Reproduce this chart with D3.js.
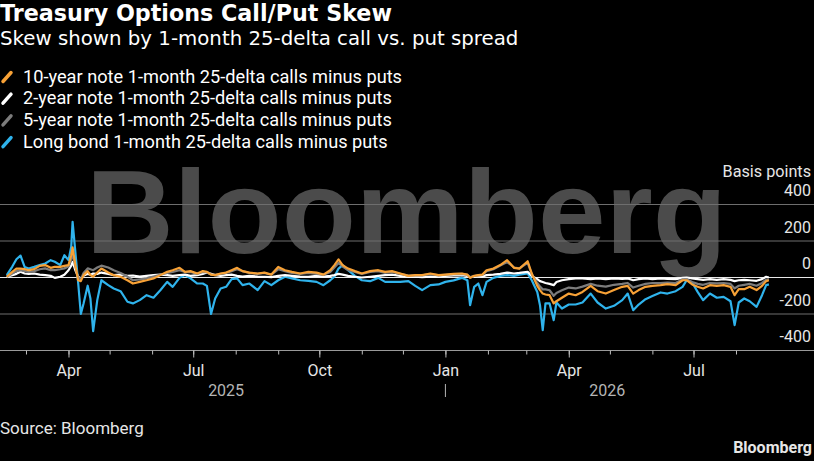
<!DOCTYPE html>
<html>
<head>
<meta charset="utf-8">
<script src="https://cdn.jsdelivr.net/npm/d3@7"></script>
<style>
  body { margin: 0; background: #000; }
  svg { display: block; }
  text { font-family: Roboto, "Noto Sans", sans-serif; }
</style>
</head>
<body>
<div id="chart"></div>
<script>
// dates of the sampled points
const dates = [
  "2025-02-15","2025-02-19","2025-02-22","2025-02-25","2025-02-28","2025-03-03","2025-03-07","2025-03-11","2025-03-15","2025-03-19",
  "2025-03-22","2025-03-26","2025-03-29","2025-04-01","2025-04-03","2025-04-04","2025-04-06","2025-04-08","2025-04-10","2025-04-12",
  "2025-04-15","2025-04-17","2025-04-19","2025-04-22","2025-04-25","2025-04-30","2025-05-04","2025-05-09","2025-05-14","2025-05-18",
  "2025-05-23","2025-05-28","2025-06-02","2025-06-07","2025-06-12","2025-06-16","2025-06-21","2025-06-25","2025-06-29","2025-07-04",
  "2025-07-08","2025-07-11","2025-07-14","2025-07-17","2025-07-21","2025-07-25","2025-07-29","2025-08-02","2025-08-06","2025-08-11",
  "2025-08-17","2025-08-22","2025-08-27","2025-09-01","2025-09-06","2025-09-11","2025-09-17","2025-09-23","2025-09-29","2025-10-04",
  "2025-10-09","2025-10-12","2025-10-15","2025-10-18","2025-10-22","2025-10-27","2025-11-01","2025-11-07","2025-11-13","2025-11-18",
  "2025-11-23","2025-11-29","2025-12-05","2025-12-10","2025-12-15","2025-12-21","2025-12-27","2026-01-01","2026-01-07","2026-01-13",
  "2026-01-17","2026-01-19","2026-01-22","2026-01-25","2026-01-28","2026-01-31","2026-02-05","2026-02-10","2026-02-15","2026-02-20",
  "2026-02-24","2026-03-02","2026-03-05","2026-03-09","2026-03-11","2026-03-13","2026-03-15","2026-03-18","2026-03-21","2026-03-23",
  "2026-03-27","2026-04-01","2026-04-06","2026-04-11","2026-04-17","2026-04-22","2026-04-28","2026-05-04","2026-05-10","2026-05-14",
  "2026-05-18","2026-05-22","2026-05-27","2026-06-01","2026-06-07","2026-06-12","2026-06-18","2026-06-23","2026-06-26","2026-06-30",
  "2026-07-04","2026-07-08","2026-07-13","2026-07-18","2026-07-23","2026-07-28","2026-07-31","2026-08-03","2026-08-07","2026-08-11",
  "2026-08-16","2026-08-20","2026-08-23","2026-08-25"
]

// basis points, 1-month 25-delta calls minus puts
const tenYear = [
  4, 31, 49, 49, 46, 40, 46, 64, 68, 53,
  58, 58, 64, 68, 122, 165, 68, -15, -20, 13,
  35, 13, 4, 27, 49, 27, 13, 4, -15, -33,
  -24, -15, -5, 13, 31, 40, 53, 31, 35, 22,
  35, 31, 16, 13, 22, 27, 40, 53, 35, 27,
  22, 27, 16, 58, 40, 31, 22, 31, 27, 16,
  40, 68, 99, 68, 49, 35, 22, 35, 40, 31,
  35, 22, 9, 13, 13, 22, 13, 16, 20, 22,
  16, -2, 9, 13, 16, 40, 49, 68, 95, 53,
  49, 89, 22, -46, -69, -88, -93, -97, -142, -130,
  -111, -88, -97, -79, -46, -75, -88, -69, -51, -46,
  -88, -69, -51, -46, -42, -36, -42, -15, -15, -38,
  -51, -60, -42, -46, -42, -51, -97, -64, -64, -51,
  -69, -46, -20, -15
]
const twoYear = [
  4, 13, 20, 31, 22, 20, 22, 16, 13, 9,
  -2, 4, 15, 40, 65, 86, 40, 5, -5, 10,
  20, 15, 22, 20, 27, 20, 13, 16, 9, 11,
  5, 9, 13, 16, 13, 9, 13, 16, 9, 13,
  20, 27, 20, 13, 9, 13, 16, 9, 5, 9,
  5, 4, 2, 9, 13, 9, 5, 4, 9, 5,
  9, 13, 20, 16, 9, 4, 0, 4, 9, 13,
  16, 9, 5, 4, 2, 5, 4, 9, 11, 13,
  9, 2, 5, 9, 5, 13, 16, 20, 27, 22,
  25, 31, 9, -9, -20, -25, -30, -35, -42, -25,
  -15, -9, -5, -5, -9, -5, -9, -5, -7, -5,
  -15, -9, -5, -9, -5, -7, -9, -2, 0, -5,
  -9, -13, -9, -13, -9, -13, -20, -15, -13, -15,
  -18, -9, 4, 0
]
const fiveYear = [
  4, 22, 35, 40, 35, 30, 35, 45, 50, 40,
  40, 45, 50, 60, 100, 130, 60, 0, -10, 25,
  50, 45, 40, 55, 65, 55, 40, 25, 5, -15,
  -10, -5, 5, 15, 25, 30, 40, 30, 30, 20,
  30, 30, 15, 15, 20, 25, 35, 45, 35, 25,
  20, 25, 15, 45, 35, 25, 20, 25, 20, 15,
  30, 55, 80, 60, 40, 30, 20, 30, 35, 25,
  30, 20, 10, 12, 12, 18, 12, 15, 18, 20,
  15, 0, 8, 12, 14, 35, 45, 65, 85, 55,
  50, 80, 18, -30, -50, -65, -65, -70, -100, -85,
  -70, -55, -60, -50, -35, -45, -50, -40, -35, -30,
  -55, -45, -35, -30, -30, -28, -30, -10, -10, -25,
  -35, -40, -30, -32, -30, -35, -60, -45, -40, -35,
  -45, -30, -12, -10
]
const longBond = [
  13, 60, 100, 120, 58, 49, 58, 68, 77, 95,
  86, 68, 122, 95, 168, 305, 140, -24, -200, -142,
  -45, -115, -294, -124, -15, -42, -60, -75, -133, -142,
  -124, -97, -111, -70, -24, -51, -2, 13, -5, -33,
  -33, -46, -200, -115, -60, -51, -9, -5, -42, -33,
  -69, -20, -42, -15, 4, -5, -15, -18, -24, -42,
  -15, 4, 49, 68, 40, 9, -15, -20, -2, -24,
  -24, -24, -20, -46, -69, -42, -38, -24, -16, -2,
  -15, -152, -51, -33, -97, -24, -2, 9, 13, 9,
  16, 22, -15, -79, -152, -288, -142, -142, -234, -137,
  -170, -148, -148, -137, -88, -137, -170, -155, -124, -88,
  -179, -148, -119, -102, -82, -88, -75, -51, -15, -27,
  -79, -124, -88, -111, -106, -130, -261, -137, -115, -130,
  -161, -97, -42, -38
]

// axis ticks and labels
const yTicks = [400, 200, 0, -200, -400]
const monthTicks = [
  "2025-03-01","2025-04-01","2025-05-01","2025-06-01","2025-07-01","2025-08-01","2025-09-01","2025-10-01","2025-11-01",
  "2025-12-01","2026-01-01","2026-02-01","2026-03-01","2026-04-01","2026-05-01","2026-06-01","2026-07-01","2026-08-01"
]
const labelTicks = ["2025-04-01","2025-07-01","2025-10-01","2026-01-01","2026-04-01","2026-07-01"]
const monthLabels = ["Apr","Jul","Oct","Jan","Apr","Jul"]
const years = ["2025","2026"]

const seriesNames = [
  "10-year note 1-month 25-delta calls minus puts",
  "2-year note 1-month 25-delta calls minus puts",
  "5-year note 1-month 25-delta calls minus puts",
  "Long bond 1-month 25-delta calls minus puts"
]
const seriesColors = ["#f7a136", "#ffffff", "#7c7c7c", "#2fb3ec"]

let width = 814, height = 461
let parse = d3.timeParse("%Y-%m-%d")
let parsedDates = dates.map(parse)

let svg = d3.select("#chart")
  .append("svg")
  .attr("width", width)
  .attr("height", height)
  .style("background", "#000")

let x = d3.scaleTime()
  .domain([parse("2025-03-01"), parse("2026-08-01")])
  .range([26, 736])

let y = d3.scaleLinear()
  .domain([-400, 400])
  .range([350.5, 204.5])

// scale a text's font size so it spans the given width
function fitWidth(sel, w) {
  let size = parseFloat(sel.style("font-size"))
  let len = sel.node().getComputedTextLength()
  sel.style("font-size", (size * w / len) + "px")
  return sel
}

// titles
let title = svg.append("text").attr("x", 0).attr("y", 21).text("Treasury Options Call/Put Skew")
  .style("font-family", "'DejaVu Sans', sans-serif")
  .style("font-size", "19px").style("font-weight", "bold").style("fill", "#fff")
fitWidth(title, 392)
let subtitle = svg.append("text").attr("x", 0).attr("y", 45).text("Skew shown by 1-month 25-delta call vs. put spread")
  .style("font-family", "'DejaVu Sans', sans-serif")
  .style("font-size", "18px").style("fill", "#fff")
fitWidth(subtitle, 519)

// legend
seriesNames.forEach((name, i) => {
  let by = 82.5 + i * 21.7
  svg.append("line").attr("x1", 3).attr("y1", by - 1).attr("x2", 11).attr("y2", by - 10)
    .style("stroke", seriesColors[i]).style("stroke-width", 3.5).style("stroke-linecap", "round")
  svg.append("text").attr("x", 23).attr("y", by).text(name)
    .style("font-size", "18.2px").style("fill", "#fff")
})

// watermark
svg.append("text").attr("x", 86).attr("y", 253).text("Bloomberg")
  .attr("textLength", 641).attr("lengthAdjust", "spacingAndGlyphs")
  .style("font-family", "'Liberation Sans', Arial, sans-serif")
  .style("font-size", "118px").style("font-weight", "bold").style("fill", "#4b4b4b")

// gridlines
svg.selectAll(".grid")
  .data(yTicks)
  .enter().append("line")
  .attr("x1", 0).attr("x2", width)
  .attr("y1", d => y(d)).attr("y2", d => y(d))
  .style("stroke", d => d == 0 ? "#e8e8e8" : d == -400 ? "#9a9a9a" : "#6e6e6e")
  .style("stroke-width", 1)

// y labels on the right
svg.selectAll(".ylab")
  .data(yTicks)
  .enter().append("text")
  .attr("x", 811).attr("y", d => y(d) - 8.5)
  .attr("text-anchor", "end")
  .text(d => d)
  .style("font-size", "16px").style("fill", "#e6e6e6")
svg.append("text").attr("x", 811).attr("y", 176.5).attr("text-anchor", "end").text("Basis points")
  .style("font-size", "16.2px").style("fill", "#e6e6e6")

// x axis ticks
let minorAxis = d3.axisBottom(x).tickValues(monthTicks.map(parse)).tickSize(4).tickFormat("")
let majorAxis = d3.axisBottom(x).tickValues(labelTicks.map(parse)).tickSize(7).tickPadding(7)
  .tickFormat((d, i) => monthLabels[i])

let gMinor = svg.append("g").attr("transform", "translate(0," + y(-400) + ")").call(minorAxis)
let gMajor = svg.append("g").attr("transform", "translate(0," + y(-400) + ")").call(majorAxis)
svg.selectAll(".domain").remove()
svg.selectAll(".tick line").style("stroke", "#bdbdbd")
gMajor.selectAll("text").style("font-size", "16px").style("fill", "#e6e6e6")
  .style("font-family", "Roboto, 'Noto Sans', sans-serif")

// year labels centred on their span of data
years.forEach((yr, i) => {
  let start = d3.max([parsedDates[0], parse(yr + "-01-01")])
  let end = d3.min([parsedDates[parsedDates.length - 1], parse((+yr + 1) + "-01-01")])
  svg.append("text").attr("x", (x(start) + x(end)) / 2).attr("y", 396).attr("text-anchor", "middle")
    .text(yr).style("font-size", "16px").style("fill", "#b5b5b5")
})
svg.append("line").attr("x1", x(parse("2026-01-01"))).attr("x2", x(parse("2026-01-01")))
  .attr("y1", 384).attr("y2", 397).style("stroke", "#b5b5b5").style("stroke-width", 1)

// lines, long bond at the back
let order = [3, 1, 2, 0]
let allSeries = [tenYear, twoYear, fiveYear, longBond]
order.forEach(i => {
  let line = d3.line()
    .x((d, j) => x(parsedDates[j]))
    .y(d => y(d))
  svg.append("path")
    .datum(allSeries[i])
    .attr("d", line)
    .style("fill", "none")
    .style("stroke", seriesColors[i])
    .style("stroke-width", 2.2)
    .style("stroke-linejoin", "round")
})

// footer
svg.append("text").attr("x", 0).attr("y", 434).text("Source: Bloomberg")
  .style("font-size", "17px").style("fill", "#e6e6e6")
svg.append("text").attr("x", 812).attr("y", 453).attr("text-anchor", "end").text("Bloomberg")
  .style("font-size", "16px").style("font-weight", "bold").style("fill", "#e6e6e6")
</script>
</body>
</html>
